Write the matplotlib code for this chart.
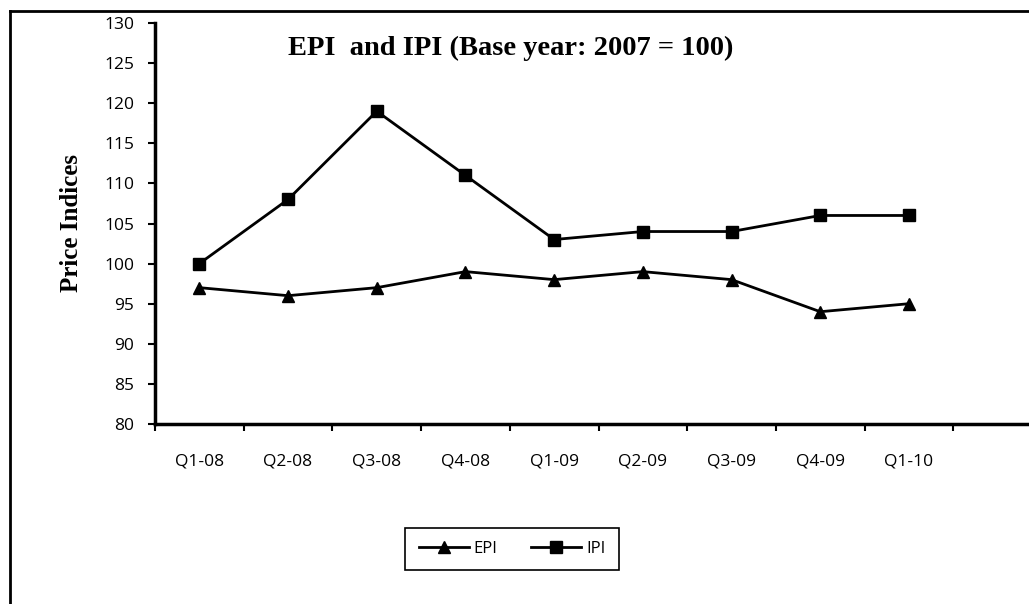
import matplotlib
matplotlib.use('Agg')
import matplotlib.pyplot as plt
from matplotlib.lines import Line2D
import numpy as np

# data
quarters = ['Q1-08', 'Q2-08', 'Q3-08', 'Q4-08', 'Q1-09', 'Q2-09', 'Q3-09', 'Q4-09', 'Q1-10']
epi = [97, 96, 97, 99, 98, 99, 98, 94, 95]
ipi = [100, 108, 119, 111, 103, 104, 104, 106, 106]
n_slots = 10

W, H = 1029, 604
fig = plt.figure(figsize=(W / 100, H / 100), dpi=100)

# outer chart frame (only left and top visible in the crop)
fig.add_artist(Line2D([9.5 / W, 9.5 / W], [0, 1 - 10.5 / H], color='black', lw=2.0))
fig.add_artist(Line2D([9.5 / W, 1], [1 - 10.5 / H, 1 - 10.5 / H], color='black', lw=2.0))

ax_l, ax_r, ax_t, ax_b = 155, 1029, 23, 424
ax = fig.add_axes([ax_l / W, 1 - ax_b / H, (ax_r - ax_l) / W, (ax_b - ax_t) / H])

x = np.arange(len(quarters))
ax.plot(x, epi, color='black', lw=2, marker='^', markersize=8.5, label='EPI')
ax.plot(x, ipi, color='black', lw=2, marker='s', markersize=8, label='IPI')

slot_px = 88.7
ax.set_xlim(-0.5, -0.5 + (ax_r - ax_l) / slot_px)
ax.set_ylim(80, 130)
ax.set_yticks(np.arange(80, 131, 5))

ax.set_xticks(np.arange(n_slots) - 0.5)
ax.set_xticklabels([])
ax.set_xticks(x, minor=True)
ax.set_xticklabels(quarters, minor=True)

for s in ['top', 'right']:
    ax.spines[s].set_visible(False)
ax.spines['left'].set_linewidth(2.5)
ax.spines['bottom'].set_linewidth(2.5)

ax.tick_params(axis='y', direction='out', length=5, width=1.5, labelsize=12.5, pad=10)
ax.tick_params(axis='x', which='major', direction='out', length=5, width=1.5)
ax.tick_params(axis='x', which='minor', length=0, labelsize=12.5, pad=21)
for lab in ax.get_yticklabels() + ax.get_xticklabels(minor=True):
    lab.set_fontfamily('Open Sans')

fig.text(72 / W, 1 - 223 / H, 'Price Indices', rotation=90,
         fontfamily='Liberation Serif', fontweight='bold', fontsize=18,
         ha='center', va='center')
fig.text(511 / W, 1 - 48 / H, 'EPI  and IPI (Base year: 2007 = 100)',
         fontfamily='Liberation Serif', fontweight='bold', fontsize=20.5,
         ha='center', va='center')

leg = fig.legend(loc='center', bbox_to_anchor=(512 / W, 1 - 549 / H), ncol=2,
                 fancybox=False, edgecolor='black', framealpha=1,
                 prop={'family': 'Open Sans', 'size': 12},
                 handlelength=3.0, columnspacing=2.0, handletextpad=0.3,
                 borderpad=0.8, borderaxespad=0)
leg.get_frame().set_linewidth(1.2)

fig.savefig('out.png', dpi=100)
